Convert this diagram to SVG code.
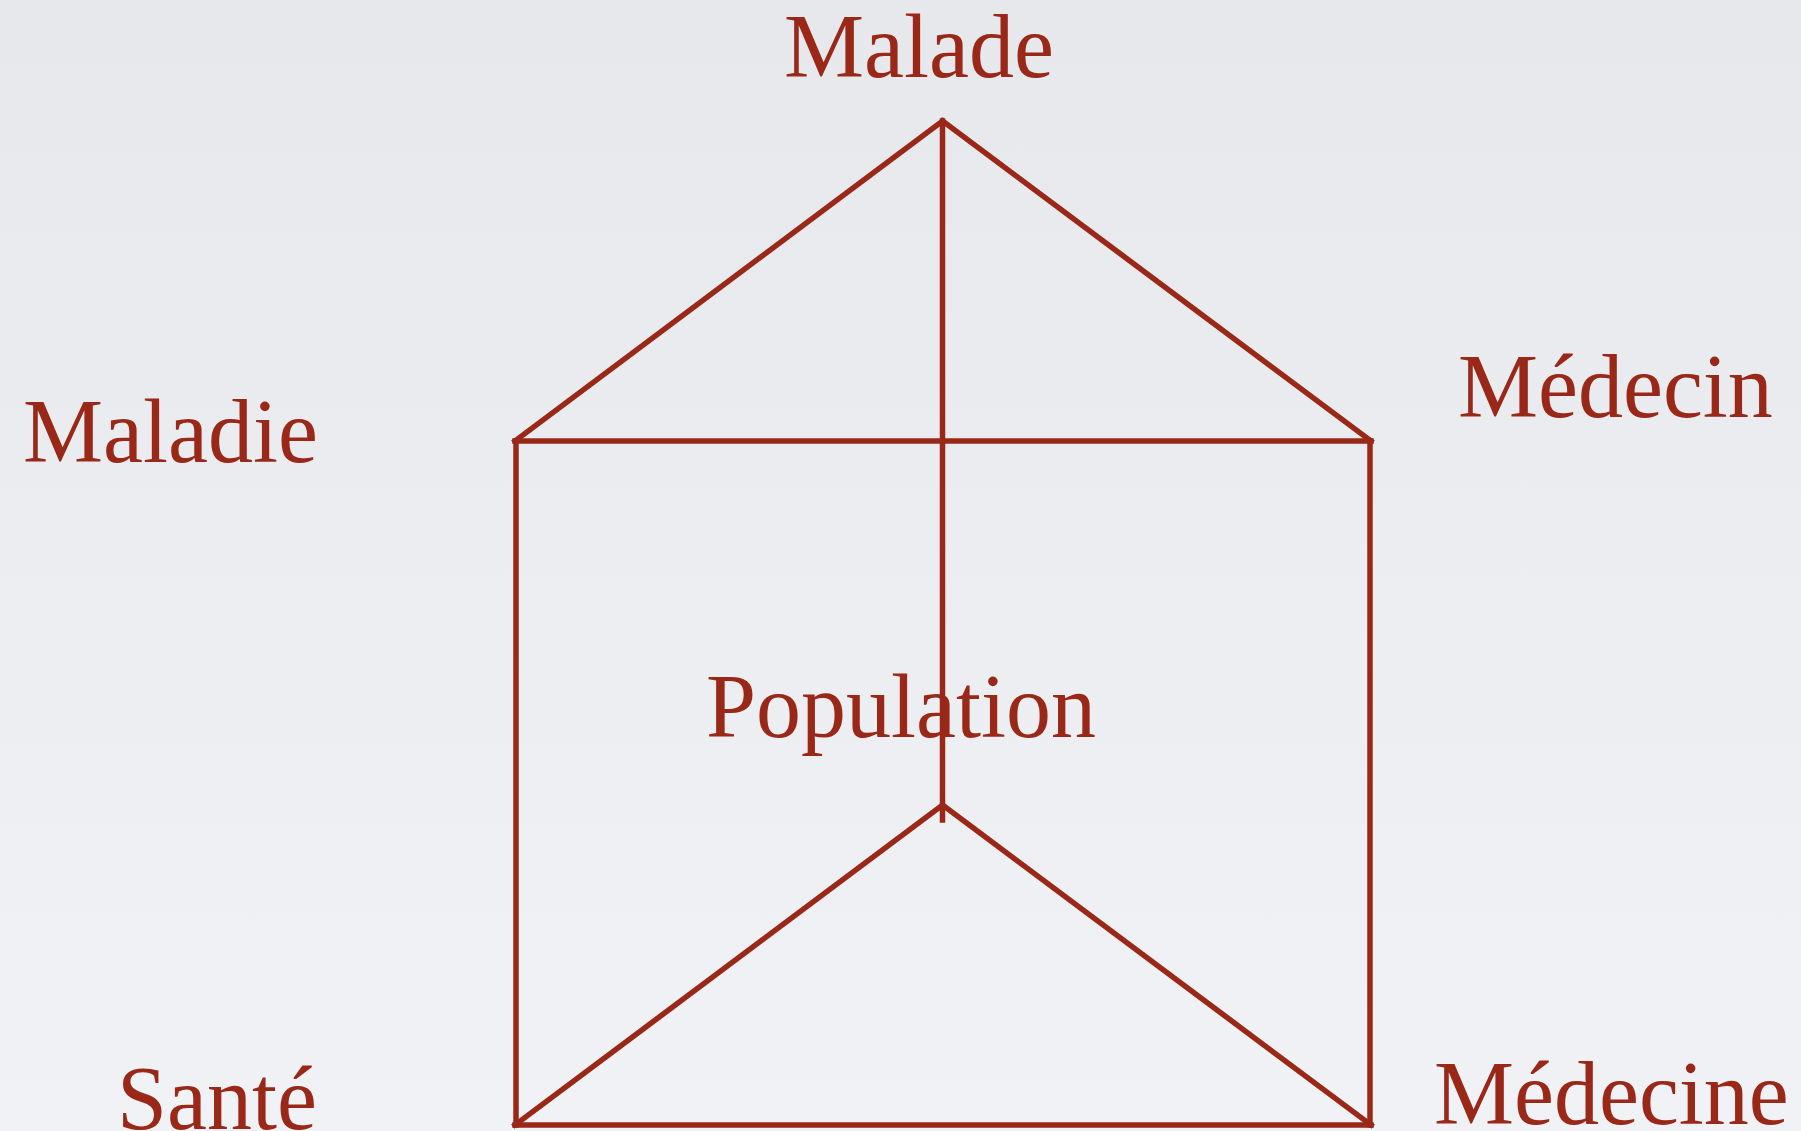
<svg xmlns="http://www.w3.org/2000/svg" width="1801" height="1131" viewBox="0 0 1801 1131">
<defs>
<linearGradient id="bg" x1="0" y1="0" x2="0" y2="1">
<stop offset="0" stop-color="#e7e8eb"/>
<stop offset="1" stop-color="#f1f2f5"/>
</linearGradient>
<style>
.lbl{font-family:"Liberation Serif","Times New Roman",serif;font-size:90px;fill:#992818}
.edge{stroke:#992818;stroke-width:5.5;fill:none;stroke-linecap:square}
</style>
</defs>
<rect width="1801" height="1131" fill="url(#bg)"/>
<g id="connectors">
<line class="edge" x1="942.5" y1="121" x2="942.5" y2="820"/>
<line class="edge" x1="942.5" y1="121" x2="515" y2="441"/>
<line class="edge" x1="942.5" y1="121" x2="1371" y2="441"/>
<line class="edge" x1="515" y1="441" x2="1371" y2="441"/>
<line class="edge" x1="516" y1="441" x2="516" y2="1125"/>
<line class="edge" x1="1370" y1="441" x2="1370" y2="1125"/>
<line class="edge" x1="942.5" y1="805" x2="515" y2="1125"/>
<line class="edge" x1="942.5" y1="805" x2="1371" y2="1125"/>
<line class="edge" x1="515" y1="1125" x2="1371" y2="1125"/>
</g>
<g id="malade"><text class="lbl" x="784" y="77">Malade</text></g>
<g id="maladie"><text class="lbl" x="23" y="462">Maladie</text></g>
<g id="medecin"><text class="lbl" x="1458" y="417">Médecin</text></g>
<g id="population"><text class="lbl" x="706" y="737">Population</text></g>
<g id="sante"><text class="lbl" x="117" y="1129">Santé</text></g>
<g id="medecine"><text class="lbl" x="1434" y="1124">Médecine</text></g>
</svg>
